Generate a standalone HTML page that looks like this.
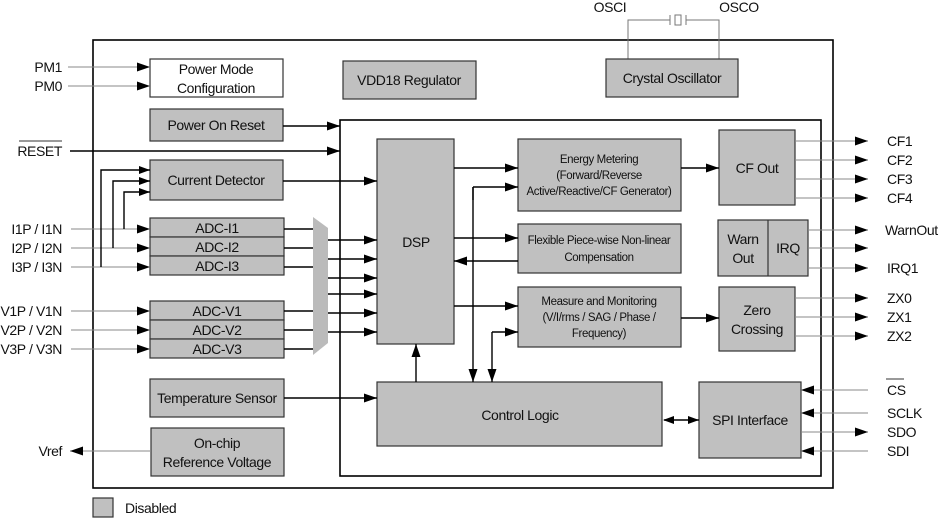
<!DOCTYPE html>
<html><head><meta charset="utf-8"><style>
body{margin:0;background:#fff}
svg{display:block;font-family:"Liberation Sans",Arial,sans-serif}
text{fill:#111;letter-spacing:-0.4px}
</style></head><body>
<svg width="940" height="518" viewBox="0 0 940 518" xmlns="http://www.w3.org/2000/svg">
<defs>
<marker id="a" markerUnits="userSpaceOnUse" markerWidth="14" markerHeight="10" refX="13" refY="5" orient="auto"><path d="M0,0.5 L13,5 L0,9.5 Z" fill="#000"/></marker>
<marker id="s" markerUnits="userSpaceOnUse" markerWidth="12" markerHeight="10" refX="11" refY="4.5" orient="auto"><path d="M0,0.5 L11,4.5 L0,8.5 Z" fill="#000"/></marker>
<marker id="sb" markerUnits="userSpaceOnUse" markerWidth="12" markerHeight="10" refX="1" refY="4.5" orient="auto"><path d="M11,0.5 L0,4.5 L11,8.5 Z" fill="#000"/></marker>
</defs>
<g fill="none" stroke="#000" stroke-width="1.6">
<rect x="93" y="40" width="740" height="448"/>
<rect x="340" y="120" width="481" height="356"/>
</g>
<g fill="none" stroke="#777" stroke-width="1">
<path d="M628,59 V20 H670 M686,20 H719 V59"/>
<path d="M670,15 V25 M686,15 V25"/><rect x="675" y="15" width="6" height="10"/>
</g>
<g font-size="14" text-anchor="middle"><text x="610" y="12">OSCI</text><text x="739" y="12">OSCO</text></g>
<g fill="#c0c0c0" stroke="#333" stroke-width="1.2">
<rect x="150" y="59" width="133" height="38" fill="#fff"/>
<rect x="343" y="61" width="133" height="38"/>
<rect x="606" y="59" width="132" height="38"/>
<rect x="150" y="109" width="133" height="32"/>
<rect x="150" y="160" width="133" height="40"/>
<rect x="150" y="218" width="134" height="19"/>
<rect x="150" y="237" width="134" height="19"/>
<rect x="150" y="256" width="134" height="19"/>
<rect x="150" y="301" width="134" height="19"/>
<rect x="150" y="320" width="134" height="19"/>
<rect x="150" y="339" width="134" height="19"/>
<rect x="150" y="379" width="134" height="38"/>
<rect x="151" y="428" width="133" height="48"/>
<polygon points="313,217 328,228 328,343 313,355" stroke="none" fill="#bbb"/>
<rect x="377" y="139" width="77" height="205"/>
<rect x="518" y="139" width="163" height="72"/>
<rect x="518" y="224" width="163" height="49"/>
<rect x="518" y="287" width="163" height="60"/>
<rect x="719" y="130" width="76" height="75"/>
<rect x="718" y="220" width="90" height="56"/>
<rect x="719" y="287" width="76" height="64"/>
<rect x="377" y="382" width="285" height="64"/>
<rect x="699" y="382" width="102" height="76"/>
<rect x="93" y="498" width="20" height="19"/>
</g>
<line x1="768" y1="220" x2="768" y2="276" stroke="#333" stroke-width="1.2"/>
<g stroke="#888" stroke-width="1" fill="none" marker-end="url(#a)">
<line x1="68" y1="67" x2="150" y2="67"/><line x1="68" y1="86" x2="150" y2="86"/>
<line x1="71" y1="229" x2="150" y2="229"/><line x1="71" y1="248" x2="150" y2="248"/><line x1="71" y1="267" x2="150" y2="267"/>
<line x1="71" y1="311" x2="150" y2="311"/><line x1="71" y1="330" x2="150" y2="330"/><line x1="71" y1="349" x2="150" y2="349"/>
<line x1="151" y1="451" x2="70" y2="451"/>
<line x1="795" y1="141" x2="868" y2="141"/><line x1="795" y1="160" x2="868" y2="160"/><line x1="795" y1="179" x2="868" y2="179"/><line x1="795" y1="198" x2="868" y2="198"/>
<line x1="808" y1="230" x2="868" y2="230"/><line x1="808" y1="248" x2="868" y2="248"/><line x1="808" y1="268" x2="868" y2="268"/>
<line x1="795" y1="298" x2="868" y2="298"/><line x1="795" y1="317" x2="868" y2="317"/><line x1="795" y1="336" x2="868" y2="336"/>
<line x1="868" y1="390" x2="801" y2="390"/><line x1="868" y1="413" x2="801" y2="413"/><line x1="868" y1="451" x2="801" y2="451"/>
<line x1="801" y1="432" x2="868" y2="432"/>
</g>
<g stroke="#000" stroke-width="1.4" fill="none">
<path d="M284,229 H313 M284,248 H313 M284,267 H313 M284,311 H313 M284,330 H313 M284,349 H313"/>
<path d="M473,187 V200"/>
</g>
<g stroke="#000" stroke-width="1.4" fill="none" marker-end="url(#a)">
<line x1="70" y1="151" x2="340" y2="151"/>
<line x1="283" y1="126" x2="340" y2="126"/>
<line x1="283" y1="181" x2="377" y2="181"/>
<line x1="328" y1="240" x2="377" y2="240"/><line x1="328" y1="259" x2="377" y2="259"/><line x1="328" y1="278" x2="377" y2="278"/>
<line x1="328" y1="294" x2="377" y2="294"/><line x1="328" y1="313" x2="377" y2="313"/><line x1="328" y1="332" x2="377" y2="332"/>
<line x1="284" y1="398" x2="377" y2="398"/>
<line x1="416" y1="382" x2="416" y2="344"/>
<line x1="454" y1="168" x2="518" y2="168"/><line x1="454" y1="238" x2="518" y2="238"/><line x1="454" y1="306" x2="518" y2="306"/>
<line x1="518" y1="261" x2="454" y2="261"/>
<line x1="681" y1="168" x2="719" y2="168"/><line x1="681" y1="318" x2="719" y2="318"/>
<line x1="473" y1="187" x2="518" y2="187"/>
<line x1="473" y1="187" x2="473" y2="382"/>
<line x1="492" y1="332" x2="518" y2="332"/>
<line x1="492" y1="332" x2="492" y2="382"/>
</g>
<g stroke="#000" stroke-width="1.4" fill="none" marker-end="url(#s)">
<path d="M101,267 V170 H150"/><path d="M113,248 V181 H150"/><path d="M124,229 V192 H150"/>
</g>
<line x1="664" y1="420" x2="699" y2="420" stroke="#000" stroke-width="1.4" marker-start="url(#sb)" marker-end="url(#s)"/>
<g font-size="14" text-anchor="middle">
<text x="216" y="74">Power Mode</text><text x="216" y="93">Configuration</text>
<text x="409" y="85">VDD18 Regulator</text>
<text x="672" y="83">Crystal Oscillator</text>
<text x="216" y="130">Power On Reset</text>
<text x="216" y="185">Current Detector</text>
<text x="217" y="233">ADC-I1</text><text x="217" y="252">ADC-I2</text><text x="217" y="271">ADC-I3</text>
<text x="217" y="316">ADC-V1</text><text x="217" y="335">ADC-V2</text><text x="217" y="354">ADC-V3</text>
<text x="217" y="403">Temperature Sensor</text>
<text x="217" y="448">On-chip</text><text x="217" y="467">Reference Voltage</text>
<text x="416" y="247">DSP</text>
<text x="520" y="420">Control Logic</text>
<text x="750" y="425">SPI Interface</text>
<text x="757" y="173">CF Out</text>
<text x="743" y="244">Warn</text><text x="743" y="263">Out</text>
<text x="788" y="253">IRQ</text>
<text x="757" y="315">Zero</text><text x="757" y="334">Crossing</text>
</g>
<g font-size="11.5" text-anchor="middle">
<text x="599" y="163">Energy Metering</text>
<text x="599" y="179">(Forward/Reverse</text>
<text x="599" y="195">Active/Reactive/CF Generator)</text>
<text x="599" y="244">Flexible Piece-wise Non-linear</text>
<text x="599" y="261">Compensation</text>
<text x="599" y="305">Measure and Monitoring</text>
<text x="599" y="321">(V/I/rms / SAG / Phase /</text>
<text x="599" y="337">Frequency)</text>
</g>
<g font-size="14" text-anchor="end">
<text x="62" y="72">PM1</text><text x="62" y="91">PM0</text>
<text x="62" y="156">RESET</text>
<text x="62" y="234">I1P / I1N</text><text x="62" y="253">I2P / I2N</text><text x="62" y="272">I3P / I3N</text>
<text x="62" y="316">V1P / V1N</text><text x="62" y="335">V2P / V2N</text><text x="62" y="354">V3P / V3N</text>
<text x="62" y="456">Vref</text>
</g>
<line x1="19" y1="141" x2="62" y2="141" stroke="#333" stroke-width="1"/>
<g font-size="14">
<text x="887" y="146">CF1</text><text x="887" y="165">CF2</text><text x="887" y="184">CF3</text><text x="887" y="203">CF4</text>
<text x="885" y="235">WarnOut</text><text x="887" y="273">IRQ1</text>
<text x="887" y="303">ZX0</text><text x="887" y="322">ZX1</text><text x="887" y="341">ZX2</text>
<text x="887" y="395">CS</text><text x="887" y="418">SCLK</text><text x="887" y="437">SDO</text><text x="887" y="456">SDI</text>
<text x="125" y="513">Disabled</text>
</g>
<line x1="886" y1="379" x2="904" y2="379" stroke="#333" stroke-width="1"/>
</svg>
</body></html>
